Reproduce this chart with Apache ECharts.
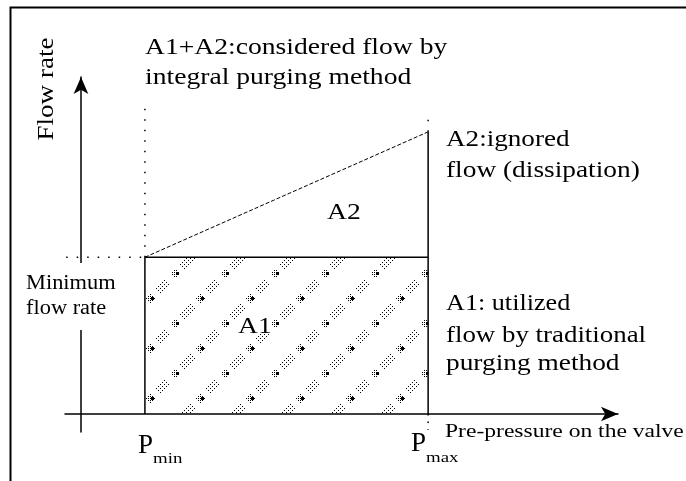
<!DOCTYPE html>
<html>
<head>
<meta charset="utf-8">
<script src="https://cdn.jsdelivr.net/npm/echarts@6/dist/echarts.min.js"></script>
<style>
  html, body { margin: 0; padding: 0; background: #fff; }
  #chart { width: 686px; height: 481px; }
</style>
</head>
<body>
<div id="chart"></div>
<script>
// pre-pressure values (x) : Pmin, Pmax
const pressure = [1, 5.43];
// flow rate values (y) : minimum flow rate, flow at Pmax
const flowRate = [1, 1.8];
// axis extents
const xRange = [-0.25, 8.4];
const yRange = [-0.115, 2.15];
// dotted guide ends
const guideTop = [1.95, 1.9];
const guideBelow = -0.1;
const guideLeft = -0.56;
// labels
const pLabels = ['P', 'P'];
const pSubs = ['min', 'max'];

const serif = '"Liberation Serif", "Times New Roman", serif';

// dotted diagonal hatch for A1
function makeHatch() {
  const c = document.createElement('canvas');
  c.width = 50;
  c.height = 50;
  const g = c.getContext('2d');
  g.fillStyle = '#000';
  const dot = (x, y, s) => {
    g.fillRect(((x % 50) + 50) % 50, ((y % 50) + 50) % 50, s, s);
  };
  for (let x = 0; x < 50; x++) {
    for (let y = 0; y < 50; y++) {
      const d = (((x + y - 48) % 50) + 75) % 50 - 25; // across the stripe
      const t = ((((x - y + 48) / 2) % 25) + 25) % 25; // along the stripe
      if (Math.abs(d) > 4) continue;
      // sparse grid between the bold spots
      if (t >= 7 && t <= 17 && x % 2 === 0 && y % 2 === 0 && (x + y) % 4 === 0) {
        dot(x, y, 1);
      }
      // halo around the bold spots
      if ((t <= 2.5 || t >= 22.5) && x % 2 === 0 && y % 2 === 0 && Math.abs(d) <= 4) {
        dot(x, y, 1);
      }
    }
  }
  // bold spots
  [0, 25].forEach(t => {
    dot(t + 1, 47 - t, 3);
  });
  return c;
}

const chart = echarts.init(document.getElementById('chart'));

const black = '#000';
const dotted = { color: black, width: 1.5, type: [1.5, 9] };

const option = {
  backgroundColor: '#fff',
  animation: false,
  grid: { left: 65, right: 68, top: 77, bottom: 49 },
  xAxis: {
    type: 'value',
    min: xRange[0],
    max: xRange[1],
    axisLine: { show: true, onZero: true, symbol: ['none', 'arrow'], symbolSize: [11, 17], lineStyle: { color: black, width: 1.5 } },
    axisTick: { show: false },
    axisLabel: { show: false },
    splitLine: { show: false }
  },
  yAxis: {
    type: 'value',
    min: yRange[0],
    max: yRange[1],
    axisLine: { show: true, onZero: true, symbol: ['none', 'arrow'], symbolSize: [11, 17], lineStyle: { color: black, width: 1.5 } },
    axisTick: { show: false },
    axisLabel: { show: false },
    splitLine: { show: false }
  },
  series: [
    {
      // A1 hatched area
      type: 'line',
      data: [[pressure[0], flowRate[0]], [pressure[1], flowRate[0]]],
      symbol: 'none',
      lineStyle: { color: black, width: 1.5 },
      areaStyle: { color: { image: makeHatch(), repeat: 'repeat' }, opacity: 1 }
    },
    {
      // left and right edges
      type: 'line',
      data: [[pressure[0], 0], [pressure[0], flowRate[0]]],
      symbol: 'none',
      lineStyle: { color: black, width: 1.5 }
    },
    {
      type: 'line',
      data: [[pressure[1], 0], [pressure[1], flowRate[1]]],
      symbol: 'none',
      lineStyle: { color: black, width: 1.5 }
    },
    {
      // A2 hypotenuse
      type: 'line',
      data: [[pressure[0], flowRate[0]], [pressure[1], flowRate[1]]],
      symbol: 'none',
      lineStyle: { color: black, width: 1, type: [4, 2] }
    },
    {
      type: 'line',
      data: [[pressure[0], flowRate[0]], [pressure[0], guideTop[0]]],
      symbol: 'none',
      clip: false,
      lineStyle: dotted
    },
    {
      type: 'line',
      data: [[pressure[1], flowRate[1]], [pressure[1], guideTop[1]]],
      symbol: 'none',
      clip: false,
      lineStyle: dotted
    },
    {
      type: 'line',
      data: [[pressure[1], 0], [pressure[1], guideBelow]],
      symbol: 'none',
      clip: false,
      lineStyle: { color: black, width: 1.5, type: [1.5, 6] }
    },
    {
      type: 'line',
      data: [[guideLeft, flowRate[0]], [pressure[0], flowRate[0]]],
      symbol: 'none',
      clip: false,
      lineStyle: dotted
    }
  ],
  graphic: [
    {
      type: 'polyline',
      shape: { points: [[10.5, 481], [10.5, 7.5], [686, 7.5]] },
      style: { stroke: black, lineWidth: 2, fill: null },
      z: 100
    },
    {
      // gap in y axis behind "Minimum flow rate"
      type: 'rect',
      shape: { x: 74, y: 263, width: 16, height: 67 },
      style: { fill: '#fff' },
      z: 100
    },
    ...[
      ['A1+A2:considered flow by', 145, 48, 24, 1.15],
      ['integral purging method', 145, 78, 24, 1.15],
      ['A2:ignored', 446, 140, 24, 1.13],
      ['flow (dissipation)', 446, 171, 24, 1.14],
      ['A2', 327, 213, 24, 1.15],
      ['A1', 238, 327, 24, 1.15],
      ['Minimum', 26, 284, 20, 1.12],
      ['flow rate', 26, 309, 20, 1.12],
      ['A1: utilized', 446, 304, 24, 1.09],
      ['flow by traditional', 446, 336, 24, 1.12],
      ['purging method', 446, 364, 24, 1.14],
      ['Pre-pressure on the valve', 445, 432, 19, 1.24],
      [pLabels[0], 138, 446, 27, 1.0],
      [pSubs[0], 153, 459, 14, 1.35],
      [pLabels[1], 411, 444, 27, 1.0],
      [pSubs[1], 426, 458, 14, 1.35]
    ].map(([text, x, y, size, sx]) => ({
      type: 'text',
      x: x,
      y: y,
      scaleX: sx,
      z: 101,
      style: { text: text, font: size + 'px ' + serif, fill: black, align: 'left', verticalAlign: 'middle' }
    })),
    {
      type: 'text',
      x: 47,
      y: 89,
      rotation: Math.PI / 2,
      scaleX: 1.13,
      z: 101,
      style: { text: 'Flow rate', font: '24px ' + serif, fill: black, align: 'center', verticalAlign: 'middle' }
    }
  ]
};

chart.setOption(option);
</script>
</body>
</html>
